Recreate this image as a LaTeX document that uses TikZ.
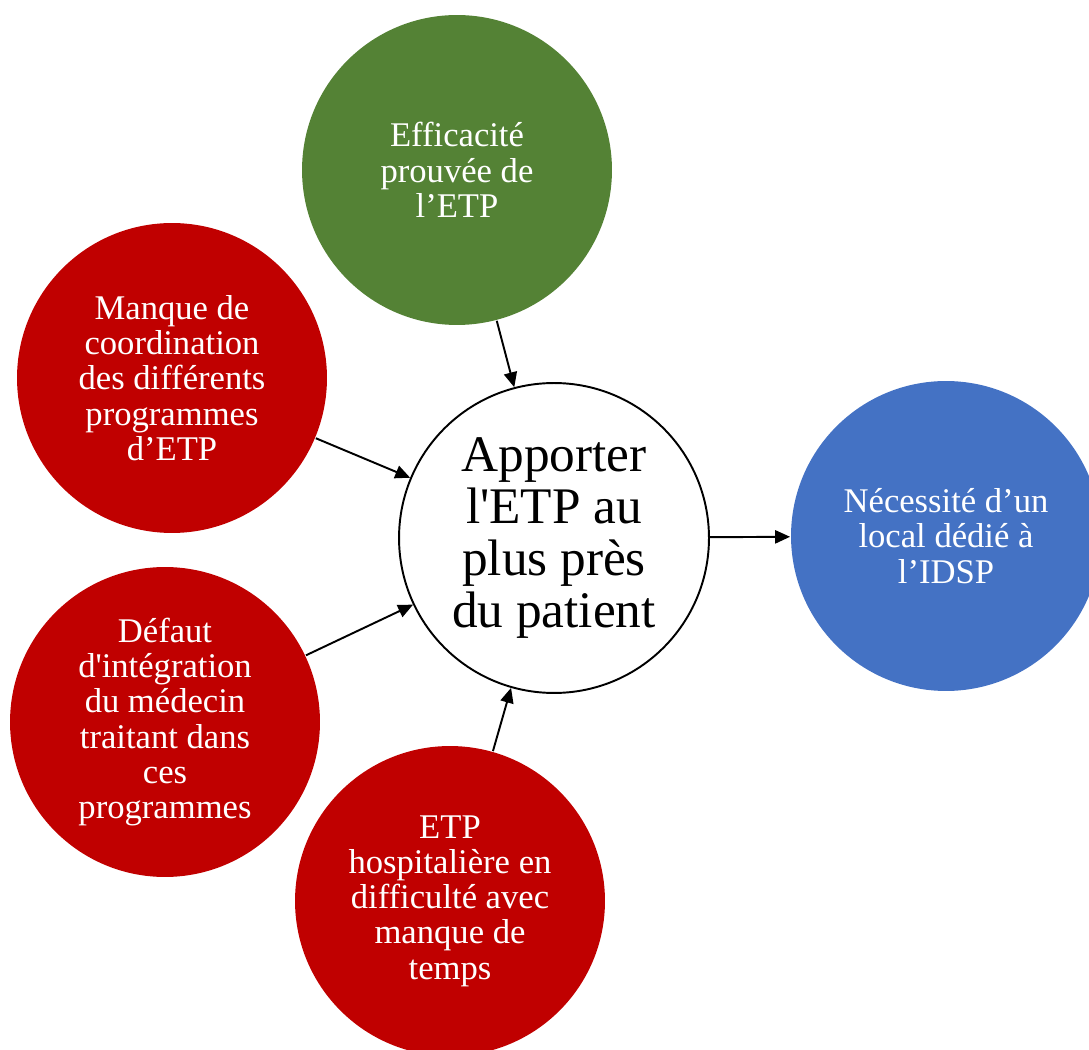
\documentclass[tikz,border=0pt]{standalone}
\usepackage{fontspec}
\setmainfont{Liberation Serif}
\usetikzlibrary{arrows.meta}
\definecolor{effgreen}{HTML}{548235}
\definecolor{causered}{HTML}{C00000}
\definecolor{needblue}{HTML}{4472C4}

\begin{document}
\begin{tikzpicture}[x=0.02cm,y=-0.02cm,-{Triangle[length=8.5pt,width=7.5pt]},
            line width=1.1pt,
            main node/.style={circle,minimum size=6.2cm,inner sep=0pt,align=center,
                text=white,font=\fontsize{19.7}{20.1}\selectfont},
            cause node/.style={main node,fill=causered},
            center node/.style={main node,draw=black,fill=white,text=black,
                font=\fontsize{29.2}{29.5}\selectfont}]

        \clip (0,0) rectangle (1089,1050);

        % Define vertices
        \node[center node] (etp) at (554,538) {Apporter\\l\textquotesingle ETP au\\plus près\\du patient};
        \node[main node,fill=effgreen] (eff) at (457,170) {Efficacité\\prouvée de\\l’ETP};
        \node[cause node] (coord) at (172,378) {Manque de\\coordination\\des différents\\programmes\\d’ETP};
        \node[cause node] (medecin) at (165,722) {Défaut\\d\textquotesingle intégration\\du médecin\\traitant dans\\ces\\programmes};
        \node[cause node] (hosp) at (450,901) {ETP\\hospitalière en\\difficulté avec\\manque de\\temps};
        \node[main node,fill=needblue] (local) at (946,536) {Nécessité d’un\\local dédié à\\l’IDSP};

        % Draw edges
        \path
            (eff) edge (etp)
            (coord) edge (etp)
            (medecin) edge (etp)
            (hosp) edge (etp)
            (etp) edge (local);

        \end{tikzpicture}
\end{document}
